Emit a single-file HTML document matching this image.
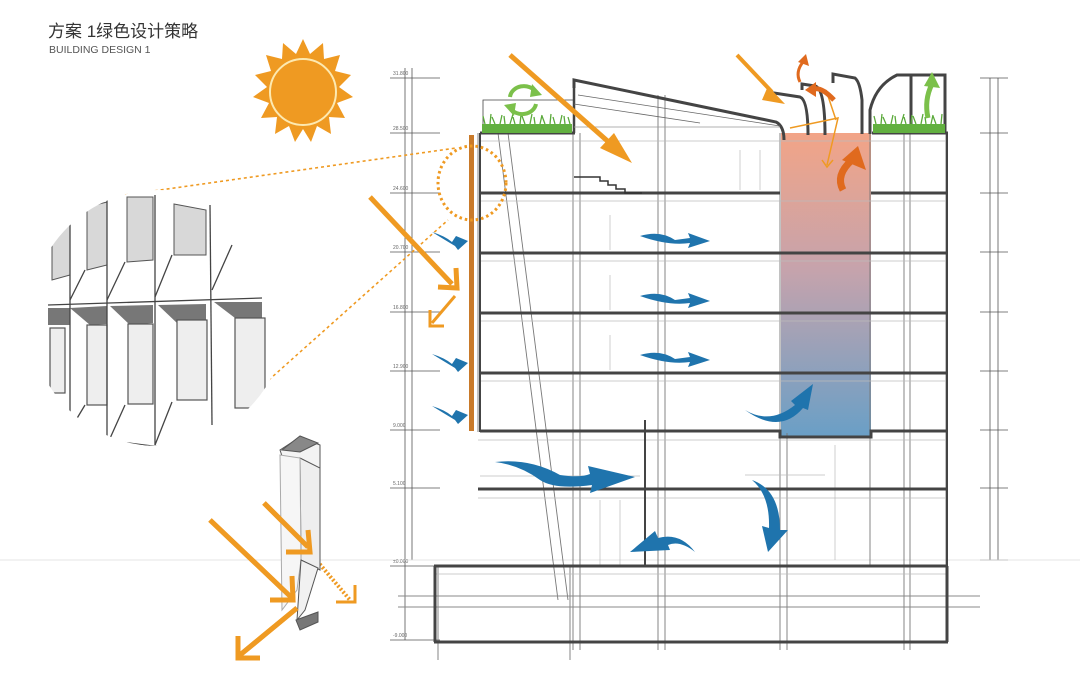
<!DOCTYPE html>
<html><head><meta charset="utf-8"><style>
html,body{margin:0;padding:0;background:#fff;width:1080px;height:692px;overflow:hidden}
svg{display:block}
</style></head><body>
<svg width="1080" height="692" viewBox="0 0 1080 692" xmlns="http://www.w3.org/2000/svg" font-family="Liberation Sans, Noto Sans CJK SC, sans-serif">
<defs>
<linearGradient id="atr" x1="0" y1="0" x2="0" y2="1">
<stop offset="0" stop-color="#f2a487"/><stop offset="0.45" stop-color="#c6a3ac"/><stop offset="1" stop-color="#6a9fc6"/>
</linearGradient>
<clipPath id="cc"><circle cx="158" cy="318" r="128"/></clipPath>
</defs>
<text x="48" y="37" font-size="17" fill="#333">方案 1绿色设计策略</text>
<text x="49" y="53" font-size="10.5" fill="#555">BUILDING DESIGN 1</text>

<!-- sun -->
<g transform="translate(303,92)">
<polygon fill="#ef9a22" points="0,-53 7,-38 20,-49 21,-33 37,-37 32,-21 48,-17 36,-5 50,5 34,11 42,26 26,25 28,42 14,34 8,50 0,37 -8,50 -14,34 -28,42 -26,25 -42,26 -34,11 -50,5 -36,-5 -48,-17 -32,-21 -37,-37 -21,-33 -20,-49 -7,-38"/>
<circle r="33" fill="#ef9a22" stroke="#fde9b0" stroke-width="2"/>
</g>

<!-- dimension lines -->
<g stroke="#555" stroke-width="0.8" fill="none">
<line x1="405" y1="68" x2="405" y2="640"/><line x1="412" y1="68" x2="412" y2="560"/>
<line x1="990" y1="78" x2="990" y2="560"/><line x1="998" y1="78" x2="998" y2="560"/>
<g>
<line x1="390" y1="78" x2="440" y2="78"/><line x1="390" y1="133" x2="440" y2="133"/><line x1="390" y1="193" x2="440" y2="193"/><line x1="390" y1="252" x2="440" y2="252"/><line x1="390" y1="312" x2="440" y2="312"/><line x1="390" y1="371" x2="440" y2="371"/><line x1="390" y1="430" x2="440" y2="430"/><line x1="390" y1="488" x2="440" y2="488"/><line x1="390" y1="566" x2="440" y2="566"/><line x1="390" y1="640" x2="440" y2="640"/>
<line x1="980" y1="78" x2="1008" y2="78"/><line x1="980" y1="133" x2="1008" y2="133"/><line x1="980" y1="193" x2="1008" y2="193"/><line x1="980" y1="252" x2="1008" y2="252"/><line x1="980" y1="312" x2="1008" y2="312"/><line x1="980" y1="371" x2="1008" y2="371"/><line x1="980" y1="430" x2="1008" y2="430"/><line x1="980" y1="488" x2="1008" y2="488"/><line x1="980" y1="560" x2="1008" y2="560"/>
</g>
</g>
<g font-size="5" fill="#666">
<text x="393" y="75">31.800</text><text x="393" y="130">28.500</text><text x="393" y="190">24.600</text><text x="393" y="249">20.700</text><text x="393" y="309">16.800</text><text x="393" y="368">12.900</text><text x="393" y="427">9.000</text><text x="393" y="485">5.100</text><text x="393" y="563">±0.000</text><text x="393" y="637">-9.000</text>
</g>
<line x1="0" y1="560" x2="1080" y2="560" stroke="#ddd" stroke-width="0.8"/>

<!-- atrium gradient -->
<rect x="781" y="133" width="90" height="303" fill="url(#atr)"/>

<!-- columns thin -->
<g stroke="#777" stroke-width="0.9" fill="none">
<line x1="478" y1="133" x2="478" y2="432"/>
<line x1="573" y1="133" x2="573" y2="650"/><line x1="580" y1="133" x2="580" y2="650"/>
<line x1="658" y1="95" x2="658" y2="650"/><line x1="665" y1="95" x2="665" y2="650"/>
<line x1="780" y1="133" x2="780" y2="650"/><line x1="787" y1="433" x2="787" y2="650"/>
<line x1="870" y1="133" x2="870" y2="566"/>
<line x1="904" y1="133" x2="904" y2="650"/><line x1="910" y1="133" x2="910" y2="650"/>
<line x1="946" y1="133" x2="946" y2="566"/>
<line x1="498" y1="133" x2="558" y2="600"/><line x1="508" y1="133" x2="568" y2="600"/>
<line x1="438" y1="566" x2="438" y2="660"/><line x1="570" y1="566" x2="570" y2="660"/>
</g>
<!-- light interior lines -->
<g stroke="#bbb" stroke-width="0.7" fill="none">
<line x1="478" y1="141" x2="946" y2="141"/><line x1="478" y1="201" x2="946" y2="201"/><line x1="478" y1="261" x2="946" y2="261"/><line x1="478" y1="321" x2="946" y2="321"/><line x1="478" y1="381" x2="946" y2="381"/><line x1="478" y1="440" x2="946" y2="440"/><line x1="478" y1="498" x2="946" y2="498"/><line x1="434" y1="574" x2="946" y2="574"/>
<line x1="740" y1="150" x2="740" y2="190"/><line x1="760" y1="150" x2="760" y2="190"/>
<line x1="610" y1="215" x2="610" y2="250"/><line x1="610" y1="275" x2="610" y2="310"/><line x1="610" y1="335" x2="610" y2="370"/>
<line x1="480" y1="476" x2="640" y2="476"/><line x1="600" y1="500" x2="600" y2="566"/><line x1="620" y1="500" x2="620" y2="566"/>
<line x1="745" y1="475" x2="825" y2="475"/><line x1="835" y1="445" x2="835" y2="560"/>
</g>
<line x1="398" y1="596" x2="980" y2="596" stroke="#888" stroke-width="1"/>
<line x1="398" y1="607" x2="980" y2="607" stroke="#888" stroke-width="1"/>

<!-- slabs -->
<g stroke="#444" stroke-width="3" fill="none">
<line x1="480" y1="133" x2="575" y2="133"/><line x1="872" y1="133" x2="948" y2="133"/>
<line x1="480" y1="193" x2="780" y2="193"/><line x1="871" y1="193" x2="948" y2="193"/>
<line x1="480" y1="253" x2="948" y2="253"/>
<line x1="480" y1="313" x2="948" y2="313"/>
<line x1="480" y1="373" x2="948" y2="373"/>
<polyline points="480,431 780,431 780,437 871,437 871,431 948,431"/>
<line x1="478" y1="489" x2="948" y2="489"/>
<line x1="434" y1="566" x2="948" y2="566"/>
<line x1="434" y1="642" x2="948" y2="642"/>
<line x1="435" y1="566" x2="435" y2="642"/><line x1="947" y1="566" x2="947" y2="642"/>
<line x1="947" y1="133" x2="947" y2="566" stroke-width="2"/>
<line x1="480" y1="133" x2="480" y2="432" stroke-width="2"/>
<line x1="574" y1="88" x2="574" y2="133" stroke-width="2.5"/>
<line x1="645" y1="420" x2="645" y2="566" stroke-width="2"/>
</g>
<!-- stairs -->
<polyline points="574,177 600,177 600,181 608,181 608,185 616,185 616,189 625,189 625,193 642,193" fill="none" stroke="#333" stroke-width="1.5"/>
<!-- roof -->
<g fill="none" stroke="#444" stroke-width="3">
<path d="M574,88 L574,80 L776,122 Q784,126 784,140"/>
<path d="M774,99 L774,93 L800,97 Q808,100 808,135"/>
<path d="M802,90 L802,84 L815,86 Q825,88 825,135"/>
<path d="M833,83 L833,74 L855,78 Q860,82 862,100 L862,134"/>
<path d="M870,134 L870,110 Q876,85 897,75 L911,75 L911,133"/>
<path d="M911,75 L945,75 L945,133"/>
<path d="M483,133 L483,100 L573,100" stroke-width="0.8"/>
</g>
<line x1="578" y1="95" x2="780" y2="126" stroke="#666" stroke-width="0.8"/>
<line x1="574" y1="104" x2="700" y2="123" stroke="#666" stroke-width="0.8"/>
<line x1="574" y1="127" x2="780" y2="127" stroke="#999" stroke-width="0.8"/>
<!-- grass -->
<g stroke="#5aa93a" stroke-width="1.3">
<rect x="482" y="124" width="90" height="9" fill="#62b040" stroke="none"/>
<rect x="873" y="124" width="72" height="9" fill="#62b040" stroke="none"/>
<path d="M485,124l-2,-8M490,124l1,-10M495,124l-3,-7M500,124l2,-9M505,124l-1,-8M510,124l3,-10M515,124l-2,-7M520,124l1,-9M525,124l-3,-8M530,124l2,-10M535,124l-1,-7M540,124l2,-9M545,124l-3,-8M550,124l1,-10M555,124l-2,-7M560,124l2,-9M565,124l-1,-8M570,124l-2,-7"/>
<path d="M876,124l-2,-8M881,124l1,-10M886,124l-3,-7M891,124l2,-9M896,124l-1,-8M901,124l3,-10M906,124l-2,-7M911,124l1,-9M916,124l-3,-8M921,124l2,-10M926,124l-1,-7M931,124l2,-9M936,124l-3,-8M941,124l1,-10"/>
</g>
<!-- green arrows -->
<path d="M510,97 A14,12 0 0 1 536,92" fill="none" stroke="#7bc04a" stroke-width="4"/>
<polygon points="532,84 542,95 530,97" fill="#7bc04a"/>
<path d="M536,104 A14,12 0 0 1 510,108" fill="none" stroke="#7bc04a" stroke-width="4"/>
<polygon points="514,116 504,105 516,103" fill="#7bc04a"/>
<path d="M928,118 Q924,100 932,84" fill="none" stroke="#7bc04a" stroke-width="5"/>
<polygon points="924,86 932,72 940,88" fill="#7bc04a"/>

<!-- facade orange bar -->
<rect x="469" y="135" width="5" height="296" fill="#c97a2a"/>

<!-- orange sun arrows -->
<g stroke="#ef9a22" stroke-width="5" fill="none" stroke-linecap="butt">
<line x1="510" y1="55" x2="612" y2="145"/>
<line x1="370" y1="197" x2="452" y2="284"/>
<polyline points="438,287 457,288 456,268"/>
<line x1="455" y1="296" x2="432" y2="323" stroke-width="3"/>
<polyline points="430,310 430,326 444,326" stroke-width="3"/>
<line x1="737" y1="55" x2="772" y2="92" stroke-width="4"/>
<line x1="210" y1="520" x2="292" y2="598"/>
<polyline points="270,600 293,600 292,576"/>
<line x1="264" y1="503" x2="308" y2="547"/>
<polyline points="286,552 310,552 308,530"/>
<line x1="297" y1="608" x2="240" y2="655"/>
<polyline points="238,636 238,658 260,658"/>
<line x1="312" y1="555" x2="350" y2="600" stroke-dasharray="2,2" stroke-width="4"/>
<polyline points="336,602 355,602 355,585" stroke-width="3"/>
</g>
<polygon points="600,148 632,163 614,133" fill="#ef9a22"/>
<polygon points="768,86 785,104 762,100" fill="#ef9a22"/>
<g stroke="#ef9a22" stroke-width="1.5" fill="none">
<polyline points="790,128 838,118 827,165"/><polyline points="822,160 827,167 833,160"/>
<line x1="836" y1="120" x2="826" y2="90"/>
</g>
<!-- red-orange -->
<path d="M843,190 Q835,175 852,160" fill="none" stroke="#e06a1e" stroke-width="7"/>
<polygon points="842,160 858,146 866,170" fill="#e06a1e"/>
<path d="M834,100 Q820,85 812,90" fill="none" stroke="#e06a1e" stroke-width="5"/>
<polygon points="816,82 805,90 816,97" fill="#e06a1e"/>
<path d="M800,82 Q795,72 803,62" fill="none" stroke="#e06a1e" stroke-width="3"/>
<polygon points="798,62 806,54 809,66" fill="#e06a1e"/>

<!-- dotted orange -->
<g stroke="#ef9a22" stroke-width="1.6" fill="none" stroke-dasharray="3,3">
<ellipse cx="472" cy="183" rx="34" ry="37" stroke-width="3" stroke-dasharray="2.5,3"/>
<line x1="125" y1="195" x2="456" y2="148"/>
<line x1="215" y1="428" x2="448" y2="220"/>
</g>

<!-- blue arrows -->
<g fill="#1f74ad">
<path d="M640,236 Q660,230 675,240 L690,238 L688,233 L710,241 L688,248 L690,243 Q668,246 640,236Z"/>
<path d="M640,296 Q660,290 675,300 L690,298 L688,293 L710,301 L688,308 L690,303 Q668,306 640,296Z"/>
<path d="M640,355 Q660,349 675,359 L690,357 L688,352 L710,360 L688,367 L690,362 Q668,365 640,355Z"/>
<path d="M432,232 Q445,236 452,242 L456,236 L468,241 L458,250 L455,246 Q445,240 432,232Z"/>
<path d="M432,354 Q445,358 452,364 L456,358 L468,363 L458,372 L455,368 Q445,362 432,354Z"/>
<path d="M432,406 Q445,410 452,416 L456,410 L468,415 L458,424 L455,420 Q445,414 432,406Z"/>
<path d="M495,462 Q530,458 560,475 Q580,478 590,474 L588,466 L635,477 L590,493 L592,485 Q555,490 540,480 Q520,465 495,462Z"/>
<path d="M695,552 Q680,540 668,545 L670,550 L630,552 L655,531 L658,538 Q680,532 695,552Z"/>
<path d="M745,410 Q770,425 795,405 L791,401 L813,384 L808,410 L803,408 Q780,435 745,410Z"/>
<path d="M752,480 Q780,490 780,530 L788,530 L768,552 L762,526 L769,528 Q770,495 752,480Z"/>
</g>

<!-- circle facade detail -->
<g clip-path="url(#cc)">
<rect x="0" y="180" width="300" height="280" fill="#fff"/>
<g fill="#d8d8d8" stroke="#555" stroke-width="1">
<polygon points="52,222 70,217 70,275 52,280"/>
<polygon points="87,207 107,202 107,265 87,270"/>
<polygon points="127,197 153,197 153,260 127,262"/>
<polygon points="174,204 206,210 206,255 174,255"/>
</g>
<g fill="#777">
<polygon points="48,308 70,308 70,325 48,325"/>
<polygon points="70,308 107,306 107,324 90,325"/>
<polygon points="110,306 153,305 153,323 130,325"/>
<polygon points="158,305 206,304 206,322 178,324"/>
<polygon points="214,302 262,302 262,318 235,318"/>
<polygon points="110,443 150,445 150,450 120,452"/>
<polygon points="66,432 106,440 106,445 80,445"/>
</g>
<g fill="#eee" stroke="#555" stroke-width="1.2">
<rect x="50" y="328" width="15" height="65"/>
<rect x="87" y="325" width="20" height="80"/>
<rect x="128" y="324" width="25" height="80"/>
<rect x="177" y="320" width="30" height="80"/>
<rect x="235" y="318" width="30" height="90"/>
</g>
<g stroke="#444" stroke-width="1.3" fill="none">
<line x1="70" y1="210" x2="70" y2="440"/><line x1="107" y1="200" x2="107" y2="445"/><line x1="155" y1="195" x2="155" y2="445"/><line x1="210" y1="205" x2="212" y2="425"/>
<line x1="48" y1="305" x2="262" y2="298"/>
<line x1="66" y1="435" x2="160" y2="447"/>
<line x1="70" y1="300" x2="85" y2="270"/><line x1="107" y1="300" x2="125" y2="262"/><line x1="155" y1="297" x2="172" y2="255"/><line x1="212" y1="290" x2="232" y2="245"/>
<line x1="70" y1="430" x2="85" y2="405"/><line x1="107" y1="445" x2="125" y2="405"/><line x1="155" y1="445" x2="172" y2="402"/>
</g>
</g>

<!-- panel sketch -->
<g stroke="#555" stroke-width="1">
<polygon points="280,450 300,437 320,445 320,470 301,460 285,465" fill="#f3f3f3"/>
<polygon points="282,450 300,436 318,443 300,452" fill="#888"/>
<polygon points="300,458 320,468 320,570 301,560" fill="#eee"/>
<polygon points="280,455 300,458 301,560 297,590 282,610" fill="#f6f6f6" stroke="#aaa"/>
<polygon points="301,560 318,568 305,610 297,620" fill="#f1f1f1"/>
<polygon points="296,620 318,612 318,622 300,630" fill="#777"/>
</g>
<!-- re-draw orange arrows over sketch -->
<g stroke="#ef9a22" stroke-width="5" fill="none">
<line x1="210" y1="520" x2="292" y2="598"/>
<polyline points="270,600 293,600 292,576"/>
<line x1="264" y1="503" x2="308" y2="547"/>
<polyline points="286,552 310,552 308,530"/>
<line x1="297" y1="608" x2="240" y2="655"/>
<polyline points="238,636 238,658 260,658"/>
</g>
</svg>
</body></html>
